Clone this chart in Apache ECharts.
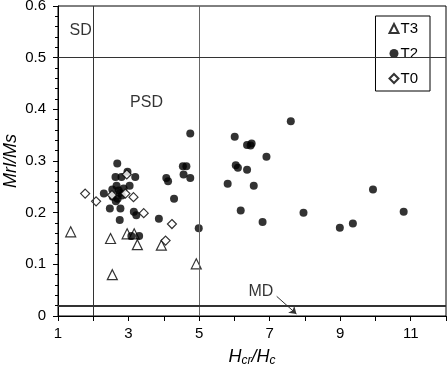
<!DOCTYPE html>
<html>
<head>
<meta charset="utf-8">
<script src="https://cdn.jsdelivr.net/npm/echarts@6/dist/echarts.min.js"></script>
<style>
  html, body { margin: 0; padding: 0; background: #fff; }
  #chart { width: 447px; height: 371px; }
</style>
</head>
<body>
<div id="chart"></div>
<script>
// 数据
var t3Data = [[1.36, 0.163], [2.49, 0.150], [2.54, 0.080], [2.96, 0.159], [3.16, 0.159],
    [3.25, 0.138], [3.93, 0.137], [4.92, 0.101]];

var t2Data = [[2.68, 0.295], [2.63, 0.269], [2.80, 0.269], [2.97, 0.279], [3.19, 0.269],
    [2.30, 0.237], [2.54, 0.245], [2.66, 0.252], [2.72, 0.243], [2.86, 0.247], [3.03, 0.252],
    [2.55, 0.231], [2.69, 0.227], [2.81, 0.233], [2.64, 0.222], [2.75, 0.238],
    [2.47, 0.208], [2.77, 0.208], [2.75, 0.186], [3.15, 0.202], [3.22, 0.195],
    [3.08, 0.155], [3.30, 0.155], [3.86, 0.188], [4.07, 0.267], [4.12, 0.261], [4.29, 0.227],
    [4.75, 0.353], [4.54, 0.290], [4.64, 0.290], [4.56, 0.274], [4.75, 0.267], [4.99, 0.170],
    [6.01, 0.347], [6.04, 0.292], [6.10, 0.287], [5.81, 0.256], [6.36, 0.331], [6.49, 0.334],
    [6.46, 0.330], [6.36, 0.283], [6.55, 0.252], [6.91, 0.308], [6.18, 0.204], [6.80, 0.182],
    [7.60, 0.377], [7.96, 0.200], [8.99, 0.171], [9.36, 0.179], [9.93, 0.245], [10.80, 0.202]];

var t0Data = [[1.77, 0.237], [2.08, 0.222], [2.53, 0.234], [2.91, 0.237], [3.14, 0.230],
    [2.95, 0.274], [3.43, 0.199], [4.23, 0.178], [4.05, 0.146]];

// 分区线
var vLines = [2, 5];
var hLines = [0.5, 0.02];
// 区域文字
var regionLabels = [
    { name: "SD", value: [1.64, 0.553] },
    { name: "PSD", value: [3.51, 0.414] },
    { name: "MD", value: [6.75, 0.047] }
];
var mdArrow = [[7.2, 0.038], [7.76, 0.004]];

var xTicks = [1, 3, 5, 7, 9, 11];

var chart = echarts.init(document.getElementById("chart"));

var lineMarks = [];
for (var i = 0; i < vLines.length; i++) {
    lineMarks.push({ xAxis: vLines[i], lineStyle: { color: i == 0 ? "#333" : "#666", width: 1, type: "solid" } });
}
for (var j = 0; j < hLines.length; j++) {
    lineMarks.push({ yAxis: hLines[j], lineStyle: { color: "#333", width: j == 0 ? 1 : 2, type: "solid" } });
}
lineMarks.push([
    { coord: mdArrow[0], lineStyle: { color: "#333", width: 1, type: "solid" } },
    { coord: mdArrow[1], symbol: "arrow", symbolSize: 7 }
]);

var option = {
    animation: false,
    textStyle: { fontFamily: "Liberation Sans", color: "#000" },
    grid: {
        left: 58, right: 1, top: 6, bottom: 55,
        containLabel: false,
        outerBoundsMode: "none",
        show: true, borderColor: "#000", borderWidth: 1
    },
    legend: {
        orient: "vertical",
        right: 17, top: 16,
        padding: [5, 12, 5, 13],
        itemGap: 10,
        itemWidth: 9, itemHeight: 9,
        borderColor: "#000", borderWidth: 1,
        textStyle: { fontSize: 15, fontFamily: "Liberation Sans", color: "#000", padding: [0, 0, 0, -3] },
        data: ["T3", "T2", "T0"]
    },
    xAxis: {
        type: "value",
        min: 1, max: 12, interval: 1,
        name: "{i|H}{s|cr}{i|/H}{s|c}",
        nameLocation: "middle",
        nameGap: 31,
        nameMoveOverlap: false,
        nameTextStyle: {
            rich: {
                i: { fontSize: 18, fontStyle: "italic", fontFamily: "Liberation Sans", color: "#000" },
                s: { fontSize: 12, fontStyle: "italic", fontFamily: "Liberation Sans", color: "#000", verticalAlign: "bottom", padding: [8, 0, 0, 0] }
            }
        },
        axisLine: { lineStyle: { color: "#000", width: 1 } },
        axisTick: { show: true, inside: false, length: 5, lineStyle: { color: "#000" } },
        axisLabel: {
            fontSize: 15, color: "#000", margin: 10,
            formatter: function (v) { return xTicks.indexOf(v) >= 0 ? String(v) : ""; }
        },
        splitLine: { show: false }
    },
    yAxis: {
        type: "value",
        min: 0, max: 0.6, interval: 0.1,
        name: "Mrl/Ms",
        nameLocation: "middle",
        nameGap: 38,
        nameMoveOverlap: false,
        nameTextStyle: { fontSize: 18, fontStyle: "italic", fontFamily: "Liberation Sans", color: "#000" },
        axisLine: { show: true, lineStyle: { color: "#000", width: 1 } },
        axisTick: { show: true, inside: false, length: 5, lineStyle: { color: "#000" } },
        minorTick: { show: true, splitNumber: 5, length: 3, lineStyle: { color: "#000" } },
        axisLabel: {
            fontSize: 15, color: "#000", margin: 12,
            formatter: function (v) { return v == 0 ? "0" : v.toFixed(1); }
        },
        splitLine: { show: false }
    },
    series: [
        {
            name: "T3",
            type: "scatter",
            symbol: "triangle",
            symbolSize: 10,
            itemStyle: { color: "#fff", borderColor: "#000", borderWidth: 1.2 },
            data: t3Data,
            markLine: {
                silent: true,
                symbol: ["none", "none"],
                label: { show: false },
                data: lineMarks
            }
        },
        {
            name: "T2",
            type: "scatter",
            symbol: "circle",
            symbolSize: 8,
            itemStyle: { color: "#000" },
            data: t2Data
        },
        {
            name: "T0",
            type: "scatter",
            symbol: "diamond",
            symbolSize: 9,
            itemStyle: { color: "#fff", borderColor: "#000", borderWidth: 1.2 },
            data: t0Data
        },
        {
            name: "labels",
            type: "scatter",
            symbolSize: 0,
            silent: true,
            data: regionLabels,
            label: {
                show: true,
                position: "inside",
                formatter: "{b}",
                fontSize: 16,
                color: "#000",
                fontFamily: "Liberation Sans"
            }
        }
    ]
};
chart.setOption(option);
</script>
</body>
</html>
